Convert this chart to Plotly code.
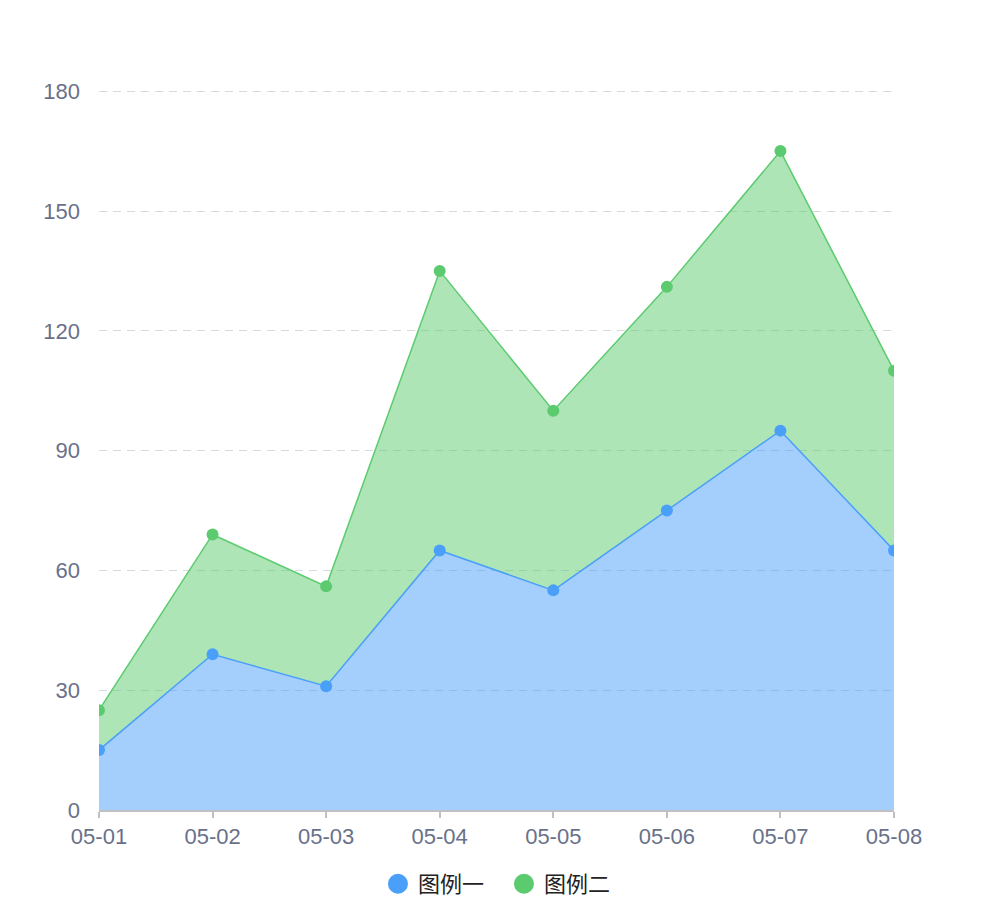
import plotly.graph_objects as go

categories = ["05-01", "05-02", "05-03", "05-04", "05-05", "05-06", "05-07", "05-08"]
series_one = [15, 39, 31, 65, 55, 75, 95, 65]
series_two = [10, 30, 25, 70, 45, 56, 70, 45]
names = ["图例一", "图例二"]
y_ticks = [0, 30, 60, 90, 120, 150, 180]

blue = "#4a9ff9"
green = "#5ccb6f"
font_fam = "Helvetica Neue, Arial, Liberation Sans, Noto Sans CJK SC"
tick_col = "#69718a"

fig = go.Figure()
for vals, name, col, fillc in [
    (series_one, names[0], blue, "rgba(74,159,249,0.5)"),
    (series_two, names[1], green, "rgba(92,203,111,0.5)"),
]:
    fig.add_trace(go.Scatter(
        x=categories, y=vals, name=name, stackgroup="one",
        mode="lines+markers",
        line=dict(color=col, width=1.5),
        marker=dict(color=col, size=12),
        fillcolor=fillc,
        showlegend=False,
    ))
    fig.add_trace(go.Scatter(
        x=[None], y=[None], name=name, mode="markers",
        marker=dict(color=col, size=16, line=dict(color=col, width=4)),
    ))

fig.update_layout(
    width=994, height=900,
    margin=dict(l=99, r=100, t=90, b=90, autoexpand=False),
    paper_bgcolor="white", plot_bgcolor="white",
    font=dict(family=font_fam, size=22, color=tick_col),
    showlegend=True,
    legend=dict(orientation="h", x=0.507, xanchor="center", xref="container",
                y=1 - 884 / 900, yanchor="middle", yref="container",
                traceorder="normal", entrywidth=81, entrywidthmode="pixels",
                font=dict(size=22, color="#222222", family="Noto Sans CJK SC, " + font_fam),
                itemsizing="trace"),
    xaxis=dict(
        type="category", range=[0, 7], showgrid=False,
        showline=True, linecolor="#c0c0c0", linewidth=2,
        ticks="outside", ticklen=6, tickcolor="#c0c0c0", tickwidth=2,
        tickfont=dict(size=22, color=tick_col),
        zeroline=False, automargin=False,
    ),
    yaxis=dict(
        range=[0, 180.3], tickvals=y_ticks,
        showgrid=True, gridcolor="#d6d9e0", griddash="8px,6px", gridwidth=1.2,
        showline=False, zeroline=False,
        ticks="", ticklabelstandoff=18,
        tickfont=dict(size=22, color=tick_col),
        automargin=False,
    ),
)

fig.write_html("out.html")
